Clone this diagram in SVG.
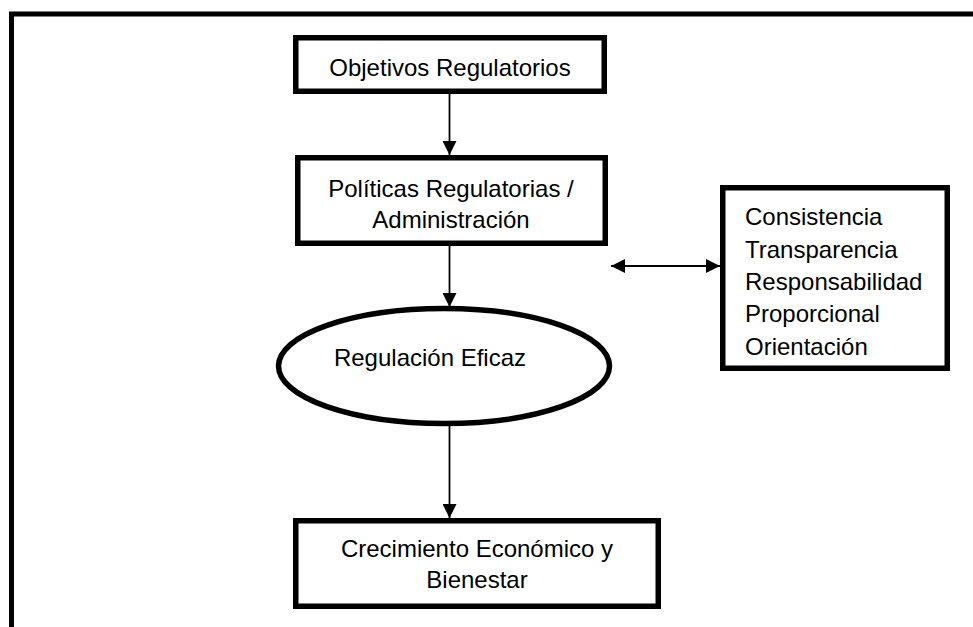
<svg xmlns="http://www.w3.org/2000/svg" width="973" height="627" viewBox="0 0 973 627">
<style>
.box{fill:#fff;stroke:#000;stroke-width:5.5}
.t{font-family:"Liberation Sans",Arial,sans-serif;font-size:24px;fill:#000}
.c{text-anchor:middle}
.ln{stroke:#000;stroke-width:1.8;fill:none}
</style>
<defs>
<marker id="ah" viewBox="0 0 14 14" refX="14" refY="7" markerWidth="14" markerHeight="14" markerUnits="userSpaceOnUse" orient="auto-start-reverse">
<path d="M0,0 L14,7 L0,14 Z" fill="#000"/>
</marker>
</defs>
<rect width="973" height="627" fill="#fff"/>
<rect id="frame" x="11.5" y="14" width="1000" height="700" fill="none" stroke="#000" stroke-width="5"/>
<g id="connectors">
<line class="ln" x1="449.5" y1="94" x2="449.5" y2="155" marker-end="url(#ah)"/>
<line class="ln" x1="449.5" y1="246" x2="449.5" y2="307" marker-end="url(#ah)"/>
<line class="ln" x1="449.5" y1="426" x2="449.5" y2="518" marker-end="url(#ah)"/>
<line class="ln" x1="611" y1="266" x2="720" y2="266" marker-start="url(#ah)" marker-end="url(#ah)"/>
</g>
<g id="objetivos">
<rect class="box" x="295.75" y="37.75" width="308.5" height="53.5"/>
<text class="t c" x="450" y="76">Objetivos Regulatorios</text>
</g>
<g id="politicas">
<rect class="box" x="297.75" y="157.75" width="307.5" height="85.5"/>
<text class="t c" x="451" y="197">Políticas Regulatorias /</text>
<text class="t c" x="451" y="228">Administración</text>
</g>
<g id="principios">
<rect class="box" x="722.75" y="187.75" width="224.5" height="180.5"/>
<text class="t" x="745" y="225">Consistencia</text>
<text class="t" x="745" y="258">Transparencia</text>
<text class="t" x="745" y="290">Responsabilidad</text>
<text class="t" x="745" y="322">Proporcional</text>
<text class="t" x="745" y="355">Orientación</text>
</g>
<g id="regulacion">
<ellipse class="box" cx="444" cy="366" rx="165.5" ry="57.5"/>
<text class="t c" x="430" y="366">Regulación Eficaz</text>
</g>
<g id="crecimiento">
<rect class="box" x="295.75" y="520.75" width="362.5" height="85.5"/>
<text class="t c" x="477" y="557">Crecimiento Económico y</text>
<text class="t c" x="477" y="588">Bienestar</text>
</g>
</svg>
